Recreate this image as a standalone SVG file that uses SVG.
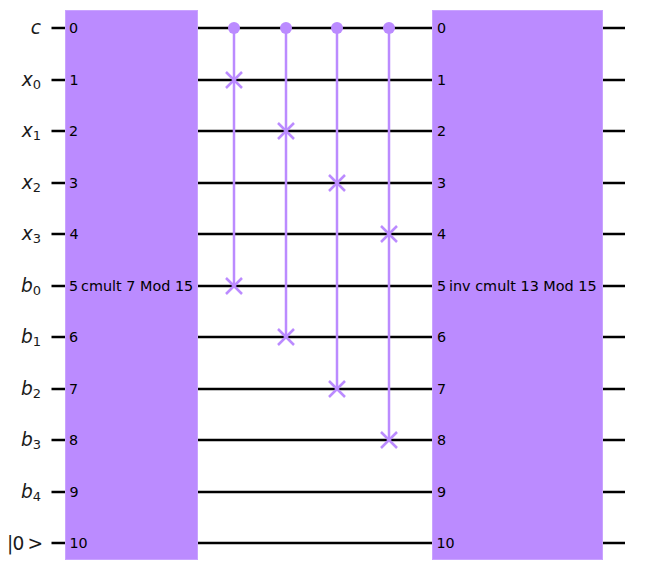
<svg xmlns="http://www.w3.org/2000/svg" width="654" height="584" viewBox="0 0 654 584">
<style>
text{font-family:"DejaVu Sans",sans-serif;fill:#000}
.w{stroke:#000;stroke-width:2.6;fill:none}
.g{fill:#bb8bff;stroke:#c9a3ff;stroke-width:1}
.c{stroke:#bb8bff;stroke-width:2.5;fill:none}
.d{fill:#bb8bff}
.n{font-size:14.3px}
.t{font-size:14.4px}
.q{font-size:18.6px;font-style:italic;text-anchor:end;fill:#1a1a1a}
.s{font-size:13px;font-style:normal}
</style>
<g id="connectors">
<path class="w" d="M51.5 28H625M51.5 80H625M51.5 131H625M51.5 183H625M51.5 234H625M51.5 286H625M51.5 337H625M51.5 389H625M51.5 440H625M51.5 492H625M51.5 543H625"/>
<path class="c" d="M234 28V286M286 28V337M337 28V389M389 28V440"/>
<path class="c" d="M226 72l16 16M242 72l-16 16M226 278l16 16M242 278l-16 16M278 123l16 16M294 123l-16 16M278 329l16 16M294 329l-16 16M329 175l16 16M345 175l-16 16M329 381l16 16M345 381l-16 16M381 226l16 16M397 226l-16 16M381 432l16 16M397 432l-16 16"/>
<circle class="d" cx="234" cy="28" r="6"/><circle class="d" cx="286" cy="28" r="6"/><circle class="d" cx="337" cy="28" r="6"/><circle class="d" cx="389" cy="28" r="6"/>
</g>
<g id="labels">
<text class="q" x="41" y="33.500">c</text>
<text class="q" x="41" y="85.500">x<tspan class="s" dy="3">0</tspan></text>
<text class="q" x="41" y="136.500">x<tspan class="s" dy="3">1</tspan></text>
<text class="q" x="41" y="188.500">x<tspan class="s" dy="3">2</tspan></text>
<text class="q" x="41" y="239.500">x<tspan class="s" dy="3">3</tspan></text>
<text class="q" x="41" y="291.500">b<tspan class="s" dy="3">0</tspan></text>
<text class="q" x="41" y="342.500">b<tspan class="s" dy="3">1</tspan></text>
<text class="q" x="41" y="394.500">b<tspan class="s" dy="3">2</tspan></text>
<text class="q" x="41" y="445.500">b<tspan class="s" dy="3">3</tspan></text>
<text class="q" x="41" y="497.500">b<tspan class="s" dy="3">4</tspan></text>
<text x="7 12.500 27.500" y="549.500" font-size="18.6" style="fill:#1a1a1a">|0&gt;</text>
</g>
<g id="gate-cmult-7" class="box">
<rect class="g" x="65.500" y="10.500" width="132" height="549"/>
<g class="n">
<text x="69" y="32.500">0</text><text x="69.500" y="84.500">1</text><text x="69" y="135.500">2</text><text x="69" y="187.500">3</text><text x="69.500" y="238.500">4</text><text x="69" y="290.500">5</text><text x="69" y="341.500">6</text><text x="69" y="393.500">7</text><text x="69" y="444.500">8</text><text x="69.500" y="496.500">9</text><text x="69.500" y="547.500">10</text>
</g>
<text class="t" x="81" y="290.500">cmult 7 Mod 15</text>
</g>
<g id="gate-inv-cmult-13" class="box">
<rect class="g" x="432.500" y="10.500" width="170" height="549"/>
<g class="n">
<text x="437" y="32.500">0</text><text x="437" y="84.500">1</text><text x="437" y="135.500">2</text><text x="437" y="187.500">3</text><text x="437" y="238.500">4</text><text x="437" y="290.500">5</text><text x="437" y="341.500">6</text><text x="437" y="393.500">7</text><text x="437" y="444.500">8</text><text x="437" y="496.500">9</text><text x="436.500" y="547.500">10</text>
</g>
<text class="t" x="449" y="290.500">inv cmult 13 Mod 15</text>
</g>
</svg>
